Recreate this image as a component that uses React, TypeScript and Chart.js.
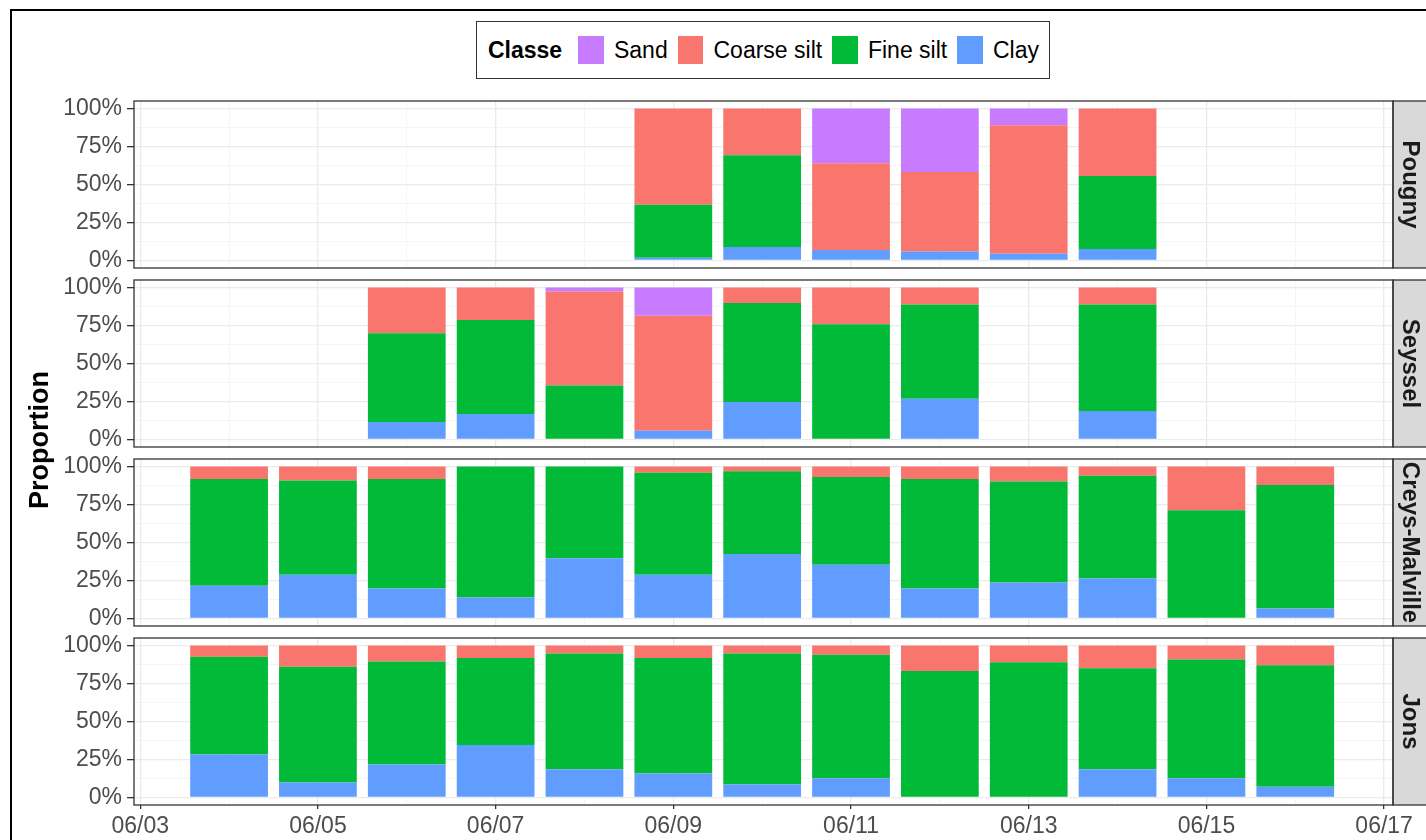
import React, { useEffect, useRef } from 'react';
import { Chart, registerables } from 'chart.js';

Chart.register(...registerables);

const FONT = '"Liberation Sans", Arial, Helvetica, sans-serif';
const N = null;

// ---- categories / ticks ----
const sampleDays = [4, 5, 6, 7, 8, 9, 10, 11, 12, 13, 14, 15, 16]; // June days
const xGridDays = [3, 4, 5, 6, 7, 8, 9, 10, 11, 12, 13, 14, 15, 16, 17];
const xTickDays = [3, 5, 7, 9, 11, 13, 15, 17];
const xTickLabels = ['06/03', '06/05', '06/07', '06/09', '06/11', '06/13', '06/15', '06/17'];
const yGridValues = [0, 12.5, 25, 37.5, 50, 62.5, 75, 87.5, 100];
const yTickValues = [0, 25, 50, 75, 100];
const yTickLabels = ['0%', '25%', '50%', '75%', '100%'];

// legend order (top of stack first)
const classNames = ['Sand', 'Coarse silt', 'Fine silt', 'Clay'];
const classColors = ['#C77CFF', '#F8766D', '#00BA38', '#619CFF'];

const sites = ['Pougny', 'Seyssel', 'Creys-Malville', 'Jons'];

// ---- values (%), aligned with sampleDays; null = no sample ----
const pougnySand = [N, N, N, N, N, 0, 0, 36, 41.8, 11, 0, N, N];
const pougnyCoarse = [N, N, N, N, N, 63.3, 30.8, 57.2, 52.3, 84.6, 44.4, N, N];
const pougnyFine = [N, N, N, N, N, 34.9, 60.4, 0, 0, 0, 48.1, N, N];
const pougnyClay = [N, N, N, N, N, 1.8, 8.8, 6.8, 5.9, 4.4, 7.5, N, N];

const seysselSand = [N, N, 0, 0, 2.6, 18.5, 0, 0, 0, N, 0, N, N];
const seysselCoarse = [N, N, 30.1, 21.4, 61.9, 75.8, 10.2, 24.2, 11.1, N, 11.1, N, N];
const seysselFine = [N, N, 58.4, 61.8, 35.5, 0, 65.2, 75.8, 62.1, N, 70.2, N, N];
const seysselClay = [N, N, 11.5, 16.8, 0, 5.7, 24.6, 0, 26.8, N, 18.7, N, N];

const creysSand = [0, 0, 0, 0, 0, 0, 0, 0, 0, 0, 0, 0, 0];
const creysCoarse = [8.1, 9.2, 8.1, 0, 0, 4, 3.1, 6.8, 8.1, 9.9, 6.1, 28.7, 12.1];
const creysFine = [70.4, 62.1, 72.2, 86.2, 60.3, 67.3, 54.4, 57.9, 72.2, 66.4, 67.6, 71.3, 81.3];
const creysClay = [21.5, 28.7, 19.7, 13.8, 39.7, 28.7, 42.5, 35.3, 19.7, 23.7, 26.3, 0, 6.6];

const jonsSand = [0, 0, 0, 0, 0, 0, 0, 0, 0, 0, 0, 0, 0];
const jonsCoarse = [7.3, 14, 10.4, 8.2, 5.2, 8.2, 5.2, 6, 16.8, 11, 14.9, 9.1, 13];
const jonsFine = [64.4, 76.1, 68, 57.2, 76.2, 76, 86.2, 81.3, 83.2, 89, 66.5, 78.2, 79.9];
const jonsClay = [28.3, 9.9, 21.6, 34.6, 18.6, 15.8, 8.6, 12.7, 0, 0, 18.6, 12.7, 7.1];

// per site, in legend order
const siteValues = [
  [pougnySand, pougnyCoarse, pougnyFine, pougnyClay],
  [seysselSand, seysselCoarse, seysselFine, seysselClay],
  [creysSand, creysCoarse, creysFine, creysClay],
  [jonsSand, jonsCoarse, jonsFine, jonsClay],
];

// ---- layout ----
const W = 1426;
const H = 840;
const PANEL_LEFT = 134;
const PANEL_RIGHT = 1393;
const PANEL_TOPS = [101, 280, 459, 638];
const PANEL_H = 167;
const X_AXIS_H = 35;

const panelFrame = {
  id: 'panelFrame',
  afterDraw(chart: any, _args: any, opts: any) {
    const { ctx, chartArea: a } = chart;
    const h = a.bottom - a.top;
    ctx.save();
    ctx.fillStyle = '#D9D9D9';
    ctx.fillRect(a.right, a.top, 42, h);
    ctx.strokeStyle = '#333333';
    ctx.lineWidth = 1.3;
    ctx.strokeRect(a.right, a.top, 42, h);
    ctx.strokeRect(a.left, a.top, a.right - a.left, h);
    ctx.translate(a.right + 17, (a.top + a.bottom) / 2);
    ctx.rotate(Math.PI / 2);
    ctx.font = `bold 24px ${FONT}`;
    ctx.fillStyle = '#1A1A1A';
    ctx.textAlign = 'center';
    ctx.textBaseline = 'middle';
    ctx.fillText(opts.label, 0, 0);
    ctx.restore();
  },
};

function makeConfig(siteIndex: number) {
  const isLast = siteIndex === sites.length - 1;
  const top = PANEL_TOPS[siteIndex];
  const values = siteValues[siteIndex];
  const isXMajor = (v: number) => xTickDays.includes(v);
  const isYMajor = (v: number) => yTickValues.includes(v);
  // stacking order: bottom first (Clay, Fine silt, Coarse silt, Sand)
  const order = [3, 2, 1, 0];
  const datasets = order.map((ci) => ({
    label: classNames[ci],
    data: sampleDays
      .map((d, i) => (values[ci][i] == null ? null : { x: d, y: values[ci][i] }))
      .filter((p) => p !== null),
    backgroundColor: classColors[ci],
    borderWidth: 0,
    barPercentage: 0.875,
    categoryPercentage: 1,
  }));
  return {
    type: 'bar',
    data: { datasets },
    options: {
      animation: false,
      responsive: false,
      maintainAspectRatio: false,
      events: [],
      layout: {
        padding: {
          left: 0,
          right: W - PANEL_RIGHT,
          top,
          bottom: isLast ? H - top - PANEL_H - X_AXIS_H : H - top - PANEL_H,
        },
      },
      plugins: {
        legend: { display: false },
        tooltip: { enabled: false },
        panelFrame: { label: sites[siteIndex] },
      },
      scales: {
        x: {
          type: 'linear',
          stacked: true,
          min: 2.93,
          max: 17.1,
          offset: false,
          afterBuildTicks: (s: any) => {
            s.ticks = xGridDays.map((v) => ({ value: v }));
          },
          afterFit: (s: any) => {
            s.height = isLast ? X_AXIS_H : 0;
          },
          border: { display: false },
          grid: {
            offset: false,
            drawTicks: isLast,
            tickLength: 4,
            color: (c: any) => (c.tick && isXMajor(c.tick.value) ? '#EBEBEB' : '#F1F1F1'),
            lineWidth: (c: any) => (c.tick && isXMajor(c.tick.value) ? 1.3 : 0.7),
            tickColor: (c: any) => (c.tick && isXMajor(c.tick.value) ? '#333333' : 'rgba(0,0,0,0)'),
            tickWidth: 1.3,
          },
          ticks: {
            display: isLast,
            autoSkip: false,
            maxRotation: 0,
            minRotation: 0,
            padding: 4,
            color: '#4D4D4D',
            font: { size: 23, family: FONT },
            callback: (v: any) => {
              const i = xTickDays.indexOf(Number(v));
              return i >= 0 ? xTickLabels[i] : '';
            },
          },
        },
        y: {
          type: 'linear',
          stacked: true,
          min: -5,
          max: 105,
          afterBuildTicks: (s: any) => {
            s.ticks = yGridValues.map((v) => ({ value: v }));
          },
          afterFit: (s: any) => {
            s.width = PANEL_LEFT;
          },
          border: { display: false },
          grid: {
            drawTicks: true,
            tickLength: 7,
            color: (c: any) => (c.tick && isYMajor(c.tick.value) ? '#EBEBEB' : '#F1F1F1'),
            lineWidth: (c: any) => (c.tick && isYMajor(c.tick.value) ? 1.3 : 0.7),
            tickColor: (c: any) => (c.tick && isYMajor(c.tick.value) ? '#333333' : 'rgba(0,0,0,0)'),
            tickWidth: 1.3,
          },
          ticks: {
            autoSkip: false,
            padding: 5,
            color: '#4D4D4D',
            font: { size: 23, family: FONT },
            callback: (v: any) => {
              const i = yTickValues.indexOf(Number(v));
              return i >= 0 ? yTickLabels[i] : '';
            },
          },
        },
      },
    },
    plugins: [panelFrame],
  };
}

function FacetPanel({ index }: { index: number }) {
  const ref = useRef<HTMLCanvasElement>(null);
  useEffect(() => {
    if (!ref.current) return;
    const chart = new Chart(ref.current, makeConfig(index) as any);
    return () => chart.destroy();
  }, [index]);
  return (
    <canvas
      ref={ref}
      width={W}
      height={H}
      style={{ position: 'absolute', left: 0, top: 0, width: W, height: H }}
    />
  );
}

function Legend() {
  return (
    <div
      style={{
        position: 'absolute',
        left: 476,
        top: 21,
        width: 574,
        height: 58,
        boxSizing: 'border-box',
        border: '1.5px solid #333333',
        display: 'flex',
        alignItems: 'center',
        paddingLeft: 11,
        fontSize: 23,
        color: '#000000',
        whiteSpace: 'nowrap',
        background: '#FFFFFF',
      }}
    >
      <span style={{ fontWeight: 'bold', marginRight: 16 }}>Classe</span>
      {classNames.map((n, i) => (
        <React.Fragment key={n}>
          <span
            style={{
              display: 'inline-block',
              width: 26,
              height: 28,
              background: classColors[i],
              marginRight: 10,
            }}
          />
          <span style={{ marginRight: 10 }}>{n}</span>
        </React.Fragment>
      ))}
    </div>
  );
}

function YTitle() {
  return (
    <div
      style={{
        position: 'absolute',
        left: 39 - 150,
        top: 440 - 20,
        width: 300,
        height: 40,
        lineHeight: '40px',
        textAlign: 'center',
        transform: 'rotate(-90deg)',
        fontWeight: 'bold',
        fontSize: 27,
        color: '#000000',
      }}
    >
      Proportion
    </div>
  );
}

export default function App() {
  return (
    <div
      style={{
        position: 'fixed',
        left: 0,
        top: 0,
        width: W,
        height: H,
        overflow: 'hidden',
        background: '#FFFFFF',
        fontFamily: FONT,
      }}
    >
      <div
        style={{
          position: 'absolute',
          left: 10,
          top: 9,
          width: 3000,
          height: 3000,
          border: '2px solid #000000',
        }}
      />
      {sites.map((s, i) => (
        <FacetPanel key={s} index={i} />
      ))}
      <Legend />
      <YTitle />
    </div>
  );
}
